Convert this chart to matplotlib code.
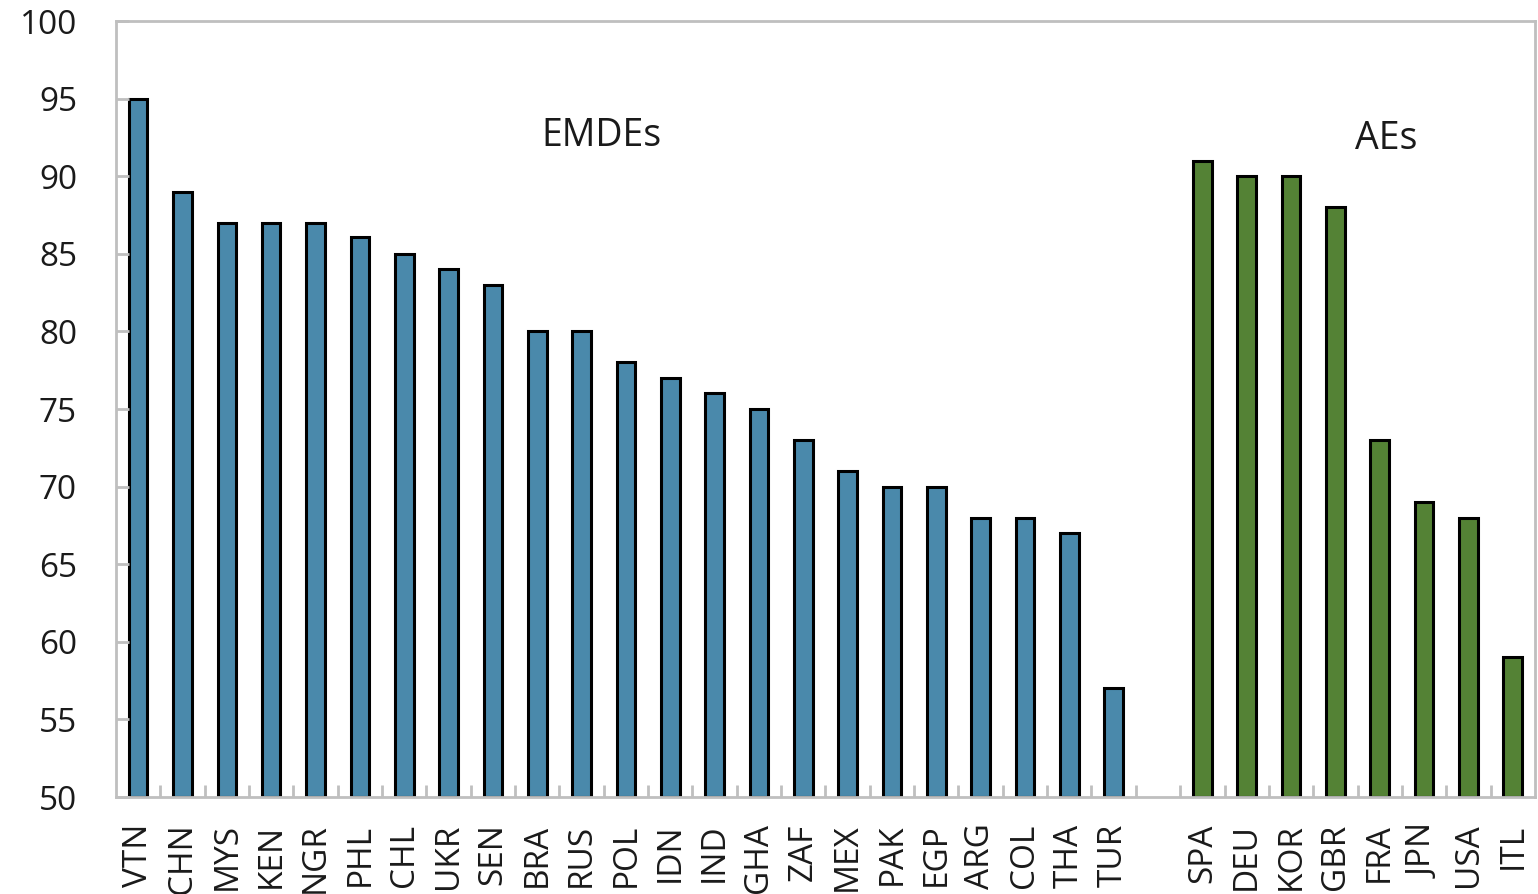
import numpy as np
import matplotlib.pyplot as plt

# index values
emde_names = ['VTN', 'CHN', 'MYS', 'KEN', 'NGR', 'PHL', 'CHL', 'UKR', 'SEN', 'BRA', 'RUS',
              'POL', 'IDN', 'IND', 'GHA', 'ZAF', 'MEX', 'PAK', 'EGP', 'ARG', 'COL', 'THA', 'TUR']
emde_vals = [95, 89, 87, 87, 87, 86.1, 85, 84, 83, 80, 80,
             78, 77, 76, 75, 73, 71, 70, 70, 68, 68, 67, 57]
ae_names = ['SPA', 'DEU', 'KOR', 'GBR', 'FRA', 'JPN', 'USA', 'ITL']
ae_vals = [91, 90, 90, 88, 73, 69, 68, 59]

blue = '#4a89ab'
green = '#548235'
frame = '#bfbfbf'
txt = '#1a1a1a'

plt.rcParams['font.family'] = ['Open Sans', 'DejaVu Sans']

fig = plt.figure(figsize=(15.38, 8.94), dpi=100)
ax = fig.add_axes([0.0754, 0.1085, 0.9226, 0.868])

# one empty slot between the two groups
x_emde = np.arange(len(emde_names))
x_ae = np.arange(len(ae_names)) + len(emde_names) + 1
base = 50

ax.bar(x_emde, np.array(emde_vals) - base, bottom=base, width=0.42,
       color=blue, edgecolor='black', linewidth=2.2)
ax.bar(x_ae, np.array(ae_vals) - base, bottom=base, width=0.42,
       color=green, edgecolor='black', linewidth=2.2)

n_slots = len(emde_names) + 1 + len(ae_names)
ax.set_xlim(-0.5, n_slots - 0.5)
ax.set_ylim(50, 100)
ax.set_yticks(np.arange(50, 101, 5))

ax.set_xticks(np.concatenate([x_emde, x_ae]))
ax.set_xticklabels(emde_names + ae_names, rotation=90, fontsize=24, color=txt)
ax.set_xticks(np.arange(0.5, n_slots - 0.5, 1), minor=True)
ax.tick_params(axis='x', which='major', length=0, pad=19)
ax.tick_params(axis='x', which='minor', direction='in', length=9, width=2, color=frame)
ax.tick_params(axis='y', direction='in', length=9, width=2, color=frame,
               labelsize=24, labelcolor=txt, pad=28)

for s in ax.spines.values():
    s.set_color(frame)
    s.set_linewidth(2)

ax.text(10.44, 92.6, 'EMDEs', fontsize=27, ha='center', va='center', color=txt)
ax.text(28.14, 92.4, 'AEs', fontsize=27, ha='center', va='center', color=txt)

fig.savefig('out.png', dpi=100)
